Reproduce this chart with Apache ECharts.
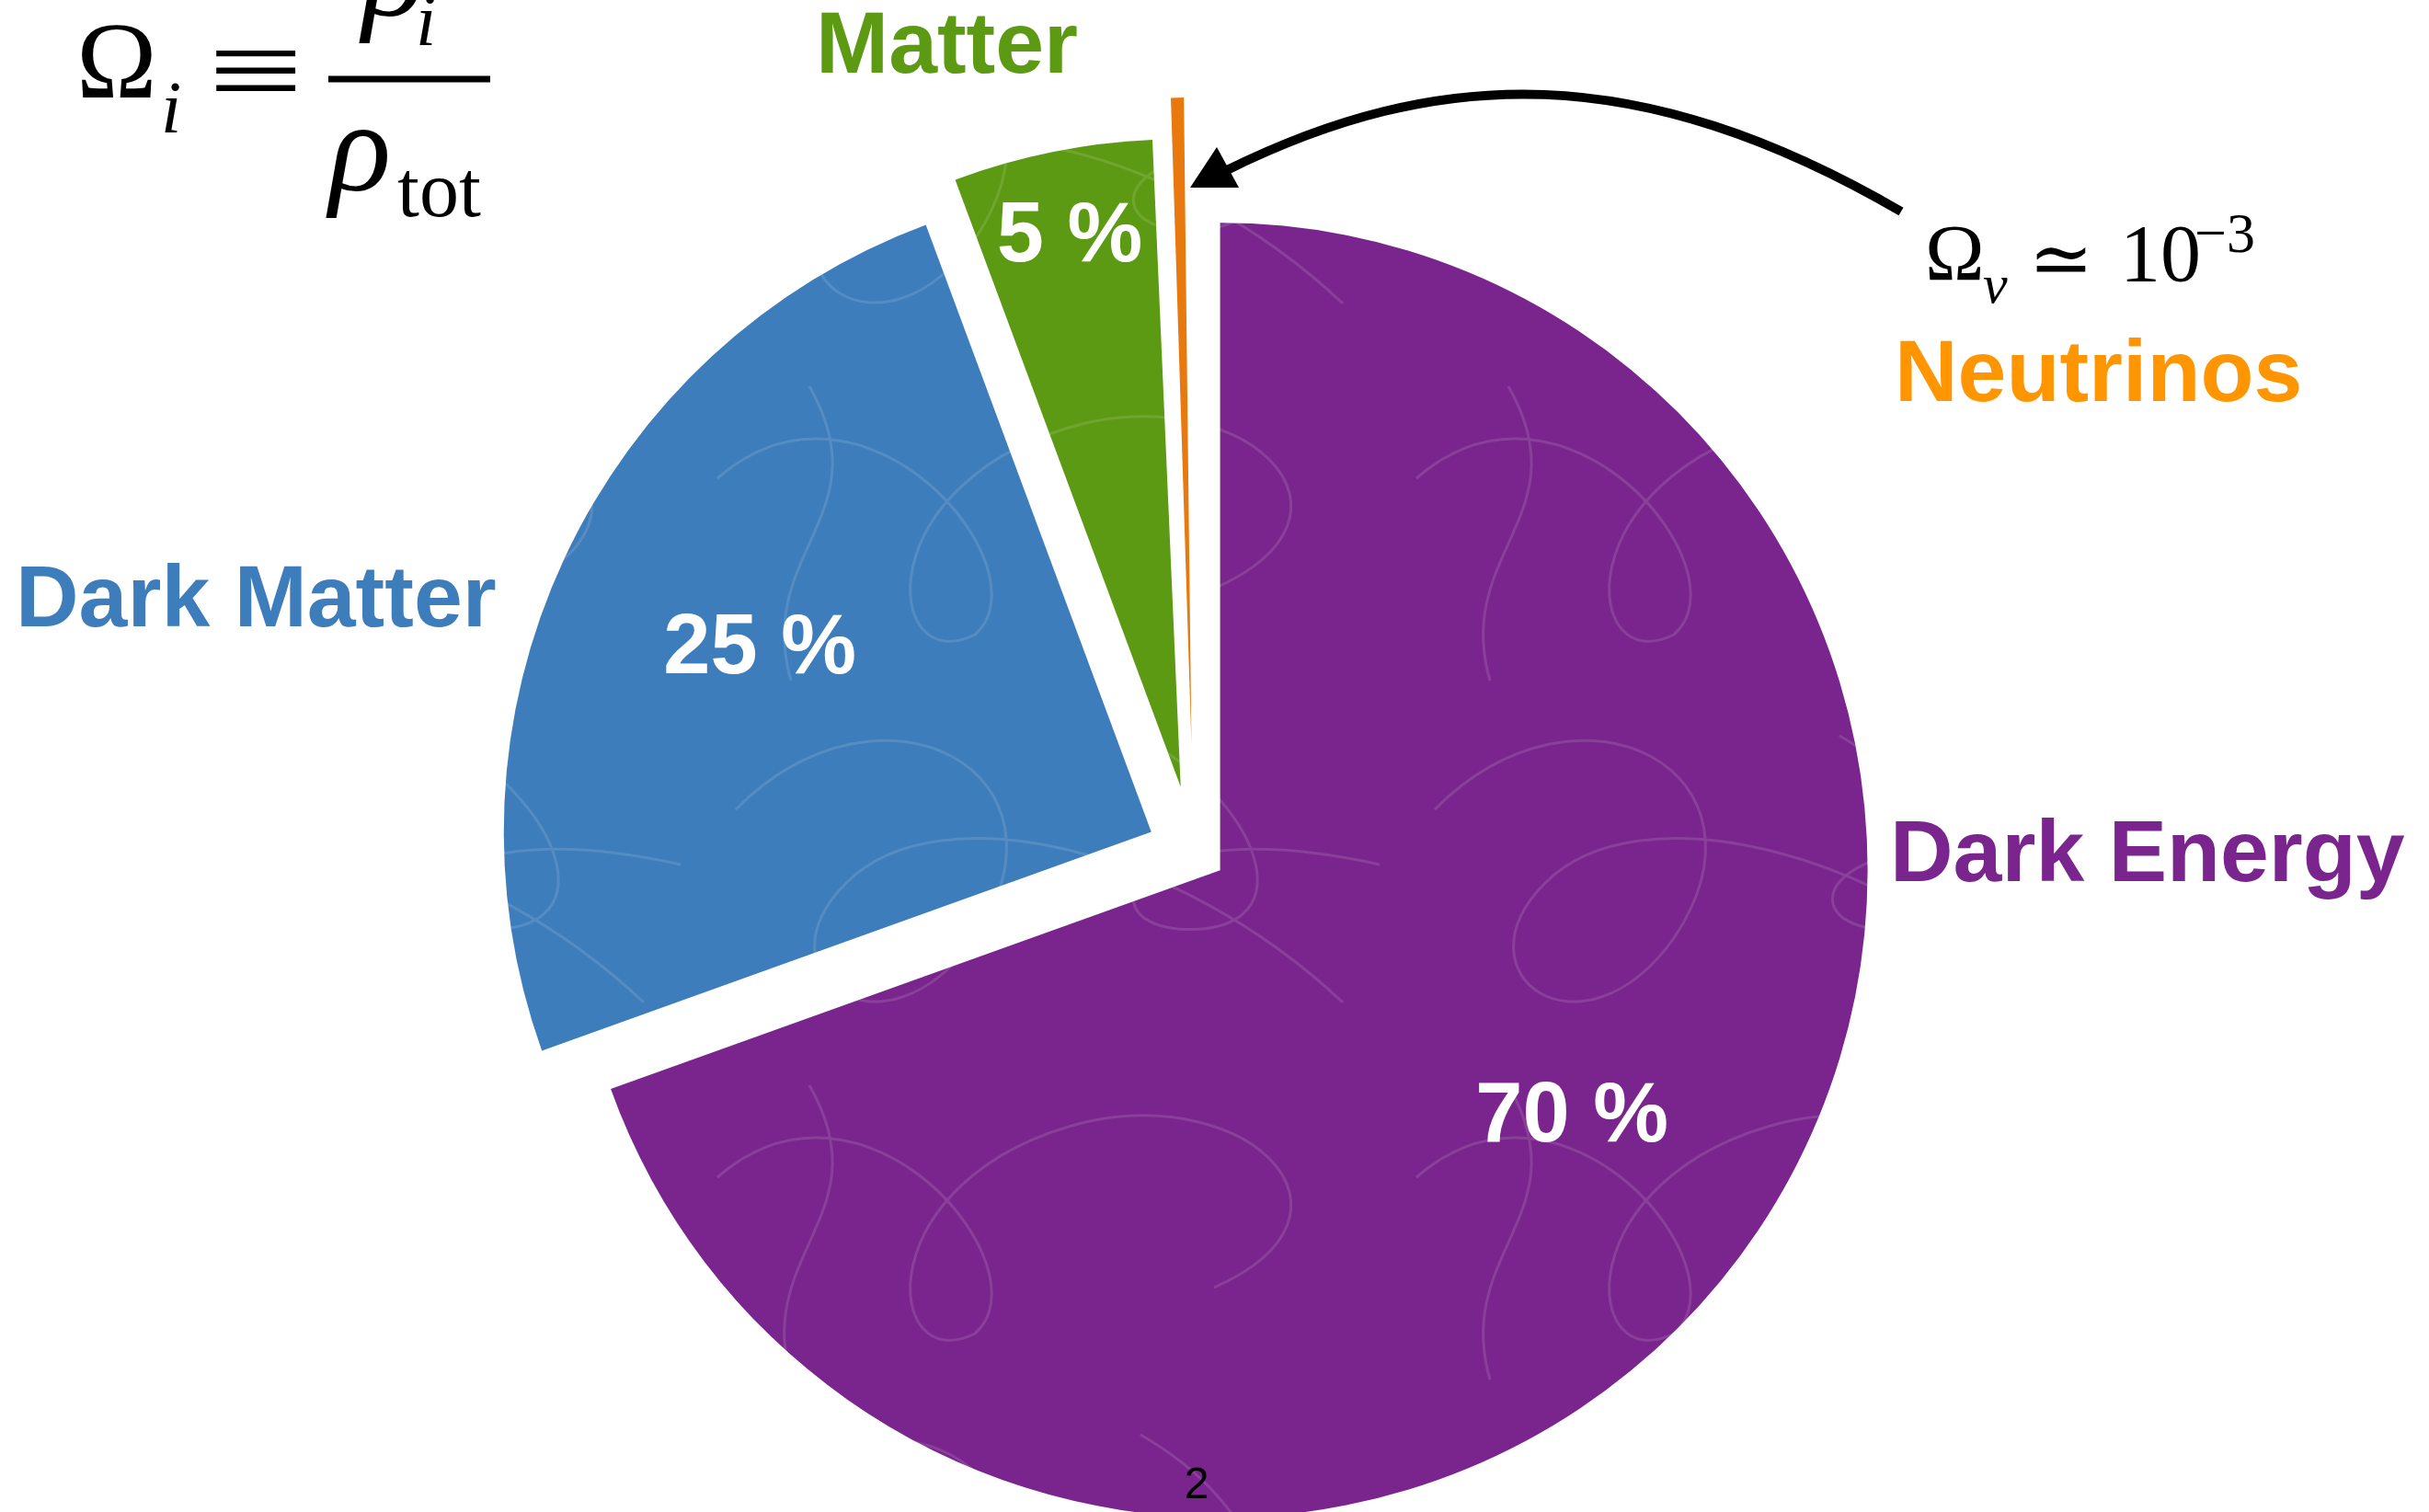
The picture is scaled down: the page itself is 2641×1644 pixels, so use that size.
<!DOCTYPE html>
<html><head><meta charset="utf-8">
<script src="https://cdn.jsdelivr.net/npm/echarts@6/dist/echarts.min.js"></script>
<style>html,body{margin:0;padding:0;background:#fff}#c{width:2641px;height:1644px}</style>
</head><body><div id="c"></div>
<script>
// ---- data ----
const categories = ['Dark Energy', 'Dark Matter', 'Matter', 'Neutrinos'];
const values = [70, 25, 5, 0.7];
const percentLabels = ['70 %', '25 %', '5 %', ''];

// ---- style ----
const sliceColors = ['#7a258d', '#3d7dbb', '#5c9a13', '#e8790e'];
const nameColors = ['#7a258d', '#3d7dbb', '#5c9a13', '#ff9500'];
const CENTER = [1298, 926], R = 704;
const explode = [35, 51, 72, 116];
const labelInner = [0.32, 0.325, 0.72, 0];
const namePos = [[2055, 932], [17, 655], [887, 53], [2060, 410]];

function texture(base) {
  const c = document.createElement('canvas');
  c.width = 760; c.height = 760;
  const g = c.getContext('2d');
  g.fillStyle = base; g.fillRect(0, 0, 760, 760);
  g.strokeStyle = 'rgba(255,255,255,0.12)'; g.lineWidth = 3;
  g.beginPath();
  g.moveTo(40, 120); g.bezierCurveTo(200, -40, 420, 80, 300, 260);
  g.bezierCurveTo(200, 400, 60, 300, 160, 200); g.bezierCurveTo(260, 100, 520, 160, 700, 330);
  g.moveTo(20, 520); g.bezierCurveTo(180, 380, 380, 620, 300, 690);
  g.bezierCurveTo(200, 740, 180, 520, 420, 460); g.bezierCurveTo(600, 420, 740, 560, 560, 640);
  g.moveTo(480, 40); g.bezierCurveTo(620, 120, 660, 260, 520, 250);
  g.bezierCurveTo(420, 240, 470, 120, 740, 180);
  g.moveTo(100, 740); g.bezierCurveTo(60, 600, 200, 560, 120, 420);
  g.stroke();
  return { image: c, repeat: 'repeat' };
}
const fills = sliceColors.map((c, i) => i < 3 ? texture(c) : c);

const sum = values.reduce((a, b) => a + b, 0);
let cum = 0;
const series = [];
values.forEach((v, i) => {
  const mid = (cum + v / 2) / sum * 2 * Math.PI;
  cum += v;
  const cx = CENTER[0] + explode[i] * Math.sin(mid);
  const cy = CENTER[1] - explode[i] * Math.cos(mid);
  series.push({
    type: 'pie', center: [cx, cy], radius: [0, R], startAngle: 90, clockwise: true,
    silent: true, animation: false, padAngle: i === 3 ? 1.35 : 0, z: 2,
    label: { show: false }, labelLine: { show: false },
    emphasis: { disabled: true },
    data: values.map((w, j) => ({
      value: w, name: categories[j],
      itemStyle: { color: j === i ? fills[i] : 'rgba(0,0,0,0)', borderWidth: 0 }
    }))
  });
  if (percentLabels[i]) {
    series.push({
      type: 'pie', center: [cx, cy], radius: [R * labelInner[i], R], startAngle: 90, clockwise: true,
      silent: true, animation: false, z: 3,
      labelLine: { show: false }, emphasis: { disabled: true },
      label: {
        position: 'inside', rotate: 0, color: '#fff', fontSize: 92, fontWeight: 'bold',
        fontFamily: 'Liberation Sans', formatter: p => percentLabels[p.dataIndex]
      },
      data: values.map((w, j) => ({
        value: w, name: categories[j],
        itemStyle: { color: 'rgba(0,0,0,0)', borderWidth: 0 },
        label: { show: j === i }
      }))
    });
  }
});

function txt(x, y, text, font, fill, align, extra) {
  return Object.assign({
    type: 'text', x: x, y: y, z: 100, silent: true,
    style: { text: text, font: font, fill: fill || '#000', align: align || 'left', verticalAlign: 'middle',
             textAlign: align || 'left', textVerticalAlign: 'middle' }
  }, extra || {});
}
const serif = '"Liberation Serif", "DejaVu Serif", serif';
const graphics = [];
categories.forEach((name, i) => {
  graphics.push(txt(namePos[i][0], namePos[i][1], name, 'bold 95px "Liberation Sans"', nameColors[i]));
});
// formula  Omega_i = rho_i / rho_tot
graphics.push(txt(83, 75, 'Ω', '118px ' + serif));
graphics.push(txt(175, 123, 'i', 'italic 80px ' + serif));
graphics.push(txt(278, 86, '≡', '130px ' + serif, '#000', 'center', { scaleX: 1.42 }));
graphics.push({ type: 'line', z: 100, silent: true, shape: { x1: 357, y1: 86, x2: 533, y2: 86 }, style: { stroke: '#000', lineWidth: 7 } });
graphics.push(txt(394, -20, 'ρ', 'italic 140px ' + serif));
graphics.push(txt(452, 28, 'i', 'italic 80px ' + serif));
graphics.push(txt(358, 170, 'ρ', 'italic 140px ' + serif));
graphics.push(txt(432, 212, 'tot', '86px ' + serif));
// Omega_nu ~ 10^-3
graphics.push(txt(2093, 281, 'Ω', '87px ' + serif));
graphics.push(txt(2156, 313, 'ν', 'italic 60px ' + serif));
graphics.push(txt(2241, 288, '≃', '84px ' + serif, '#000', 'center'));
graphics.push(txt(2305, 282, '10', '88px ' + serif));
graphics.push(txt(2386, 258, '−3', '62px ' + serif));
// page number
graphics.push(txt(1301, 1616, '2', '48px "Liberation Sans"', '#000', 'center'));
// arrow
graphics.push({
  type: 'bezierCurve', z: 100, silent: true,
  shape: { x1: 2067, y1: 230, cpx1: 1781, cpy1: 64, cpx2: 1563, cpy2: 72, x2: 1334, y2: 185 },
  style: { stroke: '#000', lineWidth: 10, fill: null }
});
graphics.push({
  type: 'polygon', z: 101, silent: true,
  shape: { points: [[1294, 204], [1323, 160], [1347, 204]] },
  style: { fill: '#000' }
});

const chart = echarts.init(document.getElementById('c'), null, { renderer: 'canvas' });
chart.setOption({
  backgroundColor: '#fff',
  animation: false,
  series: series,
  graphic: graphics
});
</script></body></html>
